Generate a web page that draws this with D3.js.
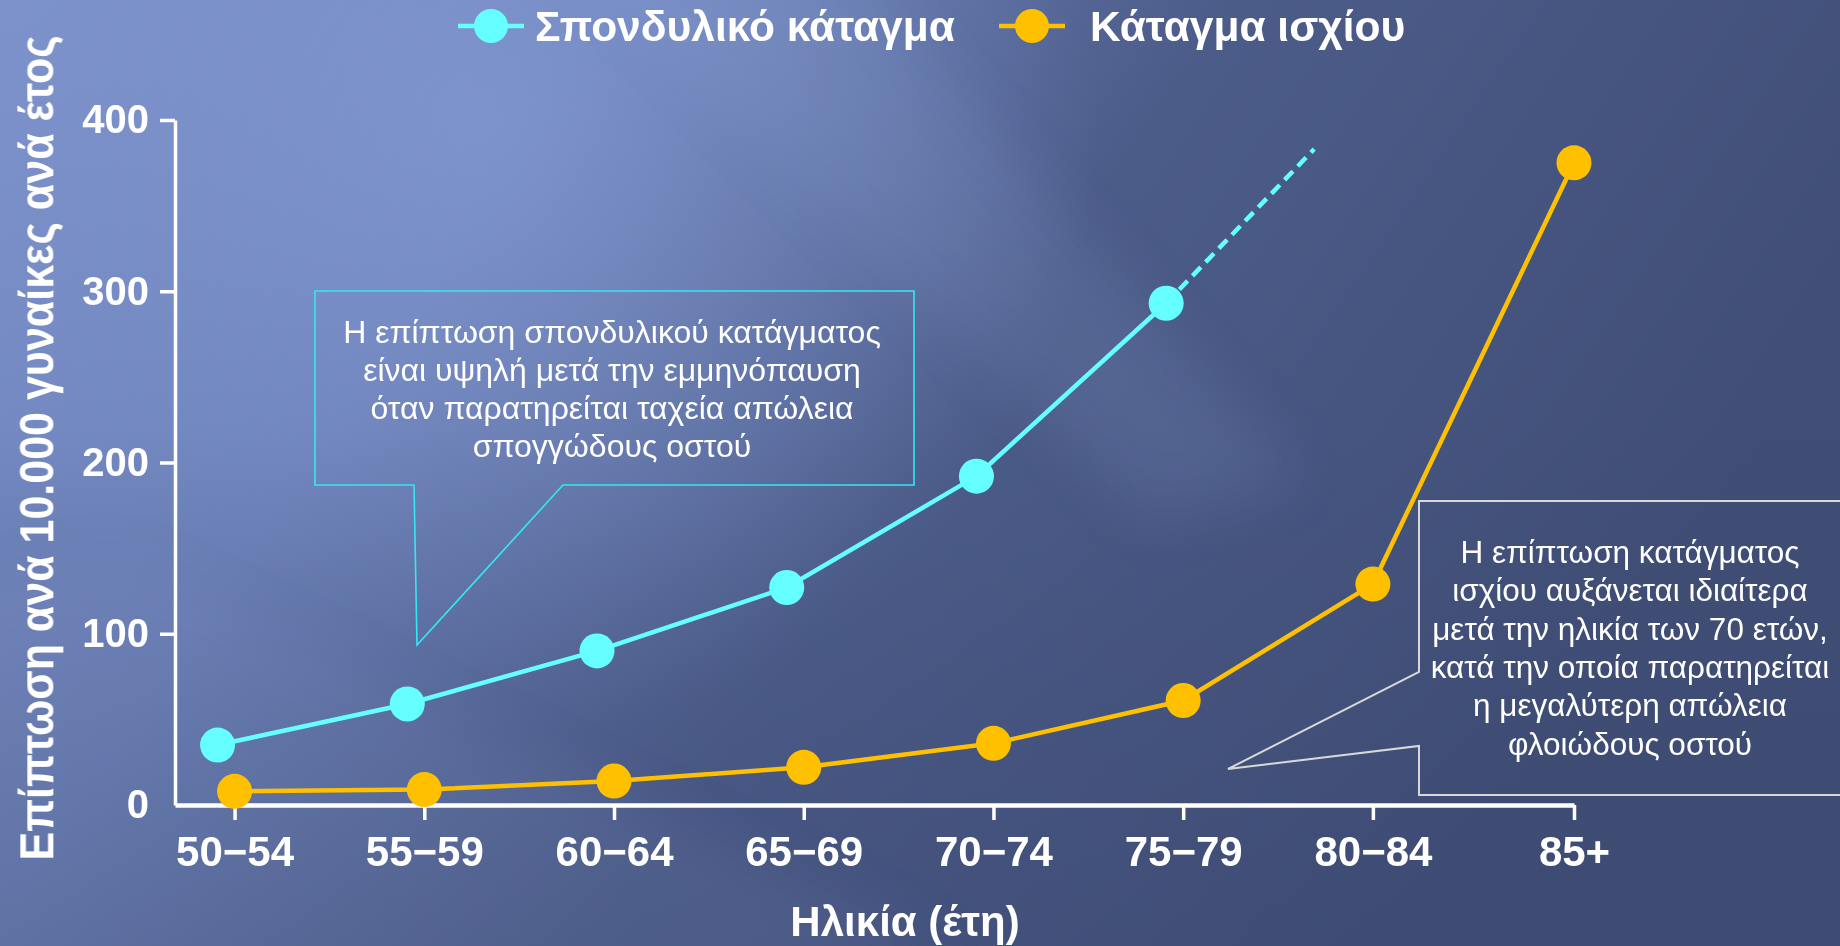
<!DOCTYPE html>
<html>
<head>
<meta charset="utf-8">
<script src="https://cdn.jsdelivr.net/npm/d3@7"></script>
<style>
  html, body { margin: 0; padding: 0; background: #4a5a86; }
  svg { display: block; }
  text { font-family: "Liberation Sans", Arial, sans-serif; fill: #ffffff; }
</style>
</head>
<body>
<svg id="chart" width="1840" height="946"></svg>
<script>
// ---------------- DATA ----------------
const categories = ["50−54", "55−59", "60−64", "65−69", "70−74", "75−79", "80−84", "85+"];
const ageMid = [52, 57, 62, 67, 72, 77, 82, 87.3];
const vertebral = [35, 59, 90, 127, 192, 293];          // Σπονδυλικό κάταγμα
const vertebralProjection = [{ age: 80.9, value: 383 }]; // dashed continuation
const hip = [8, 9, 14, 22, 36, 61, 129, 375];            // Κάταγμα ισχίου
const yTicks = [0, 100, 200, 300, 400];
const seriesNames = ["Σπονδυλικό κάταγμα", "Κάταγμα ισχίου"];
const yTitle = "Επίπτωση ανά 10.000 γυναίκες ανά έτος";
const xTitle = "Ηλικία (έτη)";
const note1 = ["Η επίπτωση σπονδυλικού κατάγματος", "είναι υψηλή μετά την εμμηνόπαυση", " όταν παρατηρείται ταχεία απώλεια", "σπογγώδους οστού"];
const note2 = ["Η επίπτωση κατάγματος", "ισχίου αυξάνεται ιδιαίτερα", "μετά την ηλικία των 70 ετών,", "κατά την οποία παρατηρείται", "η μεγαλύτερη απώλεια", "φλοιώδους οστού"];

// ---------------- STYLE ----------------
const cyan = "#66ffff", orange = "#ffc000";
const W = 1840, H = 946;
const svg = d3.select("#chart");

// ---------------- BACKGROUND ----------------
const defs = svg.append("defs");
const lg = defs.append("linearGradient").attr("id", "bg").attr("x1", 0).attr("y1", 0).attr("x2", 1).attr("y2", 0.35);
lg.append("stop").attr("offset", 0).attr("stop-color", "#7b90c8");
lg.append("stop").attr("offset", 0.3).attr("stop-color", "#6a7fb7");
lg.append("stop").attr("offset", 0.6).attr("stop-color", "#4c5c89");
lg.append("stop").attr("offset", 1).attr("stop-color", "#404e76");
const rg = defs.append("radialGradient").attr("id", "hl").attr("gradientUnits", "userSpaceOnUse")
  .attr("cx", 480).attr("cy", 120).attr("r", 620);
rg.append("stop").attr("offset", 0).attr("stop-color", "#8aa0d8").attr("stop-opacity", 0.6);
rg.append("stop").attr("offset", 1).attr("stop-color", "#8aa0d8").attr("stop-opacity", 0);
const bl = defs.append("linearGradient").attr("id", "bottomShade").attr("x1", 0).attr("y1", 0).attr("x2", 0).attr("y2", 1);
bl.append("stop").attr("offset", 0.45).attr("stop-color", "#3a4770").attr("stop-opacity", 0);
bl.append("stop").attr("offset", 1).attr("stop-color", "#3a4770").attr("stop-opacity", 0.35);
const blur = defs.append("filter").attr("id", "blur").attr("x", "-20%").attr("y", "-20%").attr("width", "140%").attr("height", "140%");
blur.append("feGaussianBlur").attr("stdDeviation", 28);

svg.append("rect").attr("width", W).attr("height", H).attr("fill", "url(#bg)");
svg.append("rect").attr("width", W).attr("height", H).attr("fill", "url(#hl)");
svg.append("rect").attr("width", W).attr("height", H).attr("fill", "url(#bottomShade)");
const streaks = svg.append("g").attr("filter", "url(#blur)");
streaks.append("path").attr("d", "M560,-60 L820,-60 L1300,480 L1150,520 Z").attr("fill", "#9fb2e6").attr("opacity", 0.12);
streaks.append("path").attr("d", "M-60,600 L120,560 L950,950 L700,1010 L-60,1010 Z").attr("fill", "#9fb2e6").attr("opacity", 0.1);

// ---------------- SCALES ----------------
const x = d3.scaleLinear().domain([50.43, 87.3]).range([175, 1574]);
const y = d3.scaleLinear().domain([0, 400]).range([805, 120]);
const vertShift = -17; // vertebral markers sit slightly left of the ticks

// ---------------- AXES ----------------
const xAxis = svg.append("g").attr("transform", `translate(0,${y(0)})`)
  .call(d3.axisBottom(x).tickValues(ageMid).tickFormat((d, i) => categories[i]).tickSize(15).tickSizeOuter(0).tickPadding(16));
xAxis.select(".domain").attr("stroke", "#fff").attr("stroke-width", 4.5);
xAxis.selectAll(".tick line").attr("stroke", "#fff").attr("stroke-width", 3.5);
xAxis.selectAll(".tick text").attr("font-size", 42).attr("font-weight", "bold").attr("fill", "#fff")
  .attr("font-family", "'Liberation Sans', Arial, sans-serif");

const yAxis = svg.append("g").attr("transform", `translate(${x(50.43)},0)`)
  .call(d3.axisLeft(y).tickValues(yTicks).tickSize(15).tickSizeOuter(0).tickPadding(11));
yAxis.select(".domain").attr("stroke", "#fff").attr("stroke-width", 3.5);
yAxis.selectAll(".tick line").attr("stroke", "#fff").attr("stroke-width", 3.5);
yAxis.selectAll(".tick text").attr("font-size", 40).attr("font-weight", "bold").attr("fill", "#fff")
  .attr("font-family", "'Liberation Sans', Arial, sans-serif");
yAxis.selectAll(".tick").filter(d => d === 0).select("line").remove();

// Axis titles
svg.append("text").attr("x", 905).attr("y", 936).attr("text-anchor", "middle")
  .attr("font-size", 42).attr("font-weight", "bold").text(xTitle);
svg.append("text").attr("transform", "translate(53,448) rotate(-90) scale(1,1.45)").attr("text-anchor", "middle")
  .attr("font-family", "'DejaVu Sans', Verdana, sans-serif")
  .attr("font-size", 33).attr("font-weight", "bold")
  .attr("textLength", 825).attr("lengthAdjust", "spacingAndGlyphs").text(yTitle);

// ---------------- CALLOUTS ----------------
svg.append("path").attr("d", "M315,291 H914 V485 H563 L417,645 L414,485 H315 Z")
  .attr("fill", "none").attr("stroke", "#33e8f4").attr("stroke-width", 1.6);
svg.append("path").attr("d", "M1419,501 H1846 V795 H1419 V746 L1228,769 L1419,672 Z")
  .attr("fill", "none").attr("stroke", "#d8d8d8").attr("stroke-width", 2);
svg.append("g").selectAll("text").data(note1).join("text")
  .attr("x", 612).attr("y", (d, i) => 343 + i * 38).attr("text-anchor", "middle")
  .attr("font-size", 32).text(d => d);
svg.append("g").selectAll("text").data(note2).join("text")
  .attr("x", 1630).attr("y", (d, i) => 563 + i * 38.3).attr("text-anchor", "middle")
  .attr("font-size", 31.5).text(d => d);

// ---------------- SERIES ----------------
const vData = vertebral.map((v, i) => ({ age: ageMid[i], value: v }));
const hData = hip.map((v, i) => ({ age: ageMid[i], value: v }));
const line = d3.line().x(d => x(d.age)).y(d => y(d.value));

const gV = svg.append("g").attr("transform", `translate(${vertShift},0)`);
gV.append("path").datum([vData[vData.length - 1], ...vertebralProjection]).attr("d", line)
  .attr("fill", "none").attr("stroke", cyan).attr("stroke-width", 4.5).attr("stroke-dasharray", "12,7");
gV.append("path").datum(vData).attr("d", line).attr("fill", "none").attr("stroke", cyan).attr("stroke-width", 4.5);
gV.selectAll("circle").data(vData).join("circle")
  .attr("cx", d => x(d.age)).attr("cy", d => y(d.value)).attr("r", 17.5).attr("fill", cyan);

const gH = svg.append("g");
gH.append("path").datum(hData).attr("d", line).attr("fill", "none").attr("stroke", orange).attr("stroke-width", 4.5);
gH.selectAll("circle").data(hData).join("circle")
  .attr("cx", d => x(d.age)).attr("cy", d => y(d.value)).attr("r", 17.5).attr("fill", orange);

// ---------------- LEGEND ----------------
const legendItems = [
  { name: seriesNames[0], color: cyan, lx: 458, tx: 535 },
  { name: seriesNames[1], color: orange, lx: 999, tx: 1090 }
];
const lgG = svg.append("g");
legendItems.forEach(it => {
  lgG.append("line").attr("x1", it.lx).attr("x2", it.lx + 66).attr("y1", 26).attr("y2", 26)
    .attr("stroke", it.color).attr("stroke-width", 4.5);
  lgG.append("circle").attr("cx", it.lx + 33).attr("cy", 26).attr("r", 17).attr("fill", it.color);
  lgG.append("text").attr("x", it.tx).attr("y", 41).attr("font-size", 42.5).attr("font-weight", "bold").text(it.name);
});
</script>
</body>
</html>
